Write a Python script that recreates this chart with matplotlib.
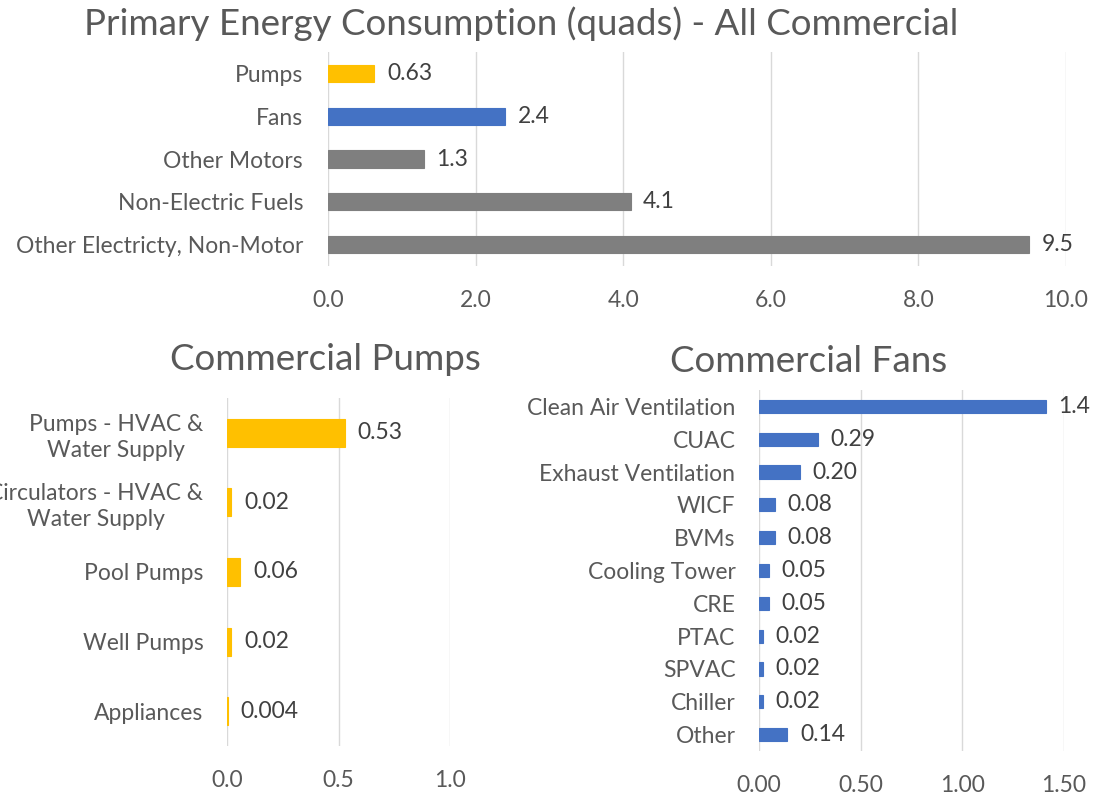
import numpy as np
import matplotlib
matplotlib.use("Agg")
import matplotlib.pyplot as plt

plt.rcParams['font.family'] = ['Lato', 'DejaVu Sans']

# top chart: all commercial
all_cats = ['Pumps', 'Fans', 'Other Motors', 'Non-Electric Fuels',
            'Other Electricty, Non-Motor']
all_vals = [0.63, 2.4, 1.3, 4.1, 9.5]
all_labels = ['0.63', '2.4', '1.3', '4.1', '9.5']
all_colors = ['#FFC000', '#4472C4', '#7F7F7F', '#7F7F7F', '#7F7F7F']

# bottom left: pumps
pump_cats = ['Pumps - HVAC &\nWater Supply', 'Circulators - HVAC &\nWater Supply',
             'Pool Pumps', 'Well Pumps', 'Appliances']
pump_vals = [0.53, 0.02, 0.06, 0.02, 0.004]
pump_labels = ['0.53', '0.02', '0.06', '0.02', '0.004']

# bottom right: fans
fan_cats = ['Clean Air Ventilation', 'CUAC', 'Exhaust Ventilation', 'WICF', 'BVMs',
            'Cooling Tower', 'CRE', 'PTAC', 'SPVAC', 'Chiller', 'Other']
fan_vals = [1.41, 0.29, 0.20, 0.08, 0.08, 0.05, 0.05, 0.02, 0.02, 0.02, 0.14]
fan_labels = ['1.4', '0.29', '0.20', '0.08', '0.08', '0.05', '0.05',
              '0.02', '0.02', '0.02', '0.14']

W, H = 1098, 796
fig = plt.figure(figsize=(W / 100, H / 100), dpi=100)

TXT = '#595959'
LBL = '#404040'
GRID = '#D9D9D9'
FS = 16.5


def px_axes(x0, y0, x1, y1):
    # pixel box (top-left origin) -> figure axes
    return fig.add_axes([x0 / W, 1 - y1 / H, (x1 - x0) / W, (y1 - y0) / H])


def hbar(ax, cats, vals, labels, colors, xmax, xticks, fmt, ypad, xpad):
    ind = np.arange(len(cats))
    bars = ax.barh(ind, vals, 0.4, color=colors, edgecolor=colors,
                   linewidth=0.8, zorder=3)
    ax.set_ylim(len(cats) - 0.5, -0.5)
    ax.set_xlim(0, xmax)
    ax.set_yticks(ind)
    ax.set_yticklabels(cats, multialignment='center', linespacing=1.3)
    ax.set_xticks(xticks)
    ax.set_xticklabels([fmt.format(t) for t in xticks])
    ax.tick_params(length=0, labelsize=FS, colors=TXT)
    ax.tick_params(axis='y', pad=ypad)
    ax.tick_params(axis='x', pad=xpad)
    ax.grid(axis='x', color=GRID, linewidth=1, zorder=0)
    for s in ax.spines.values():
        s.set_visible(False)
    ax.bar_label(bars, labels=labels, padding=9, fontsize=FS, color=LBL)


ax1 = px_axes(328, 52, 1066, 266)
hbar(ax1, all_cats, all_vals, all_labels, all_colors, 10,
     [0, 2, 4, 6, 8, 10], '{:.1f}', 18, 17)

ax2 = px_axes(227, 398, 450, 746)
hbar(ax2, pump_cats, pump_vals, pump_labels, '#FFC000', 1.0,
     [0, 0.5, 1.0], '{:.1f}', 17, 17)

ax3 = px_axes(759, 390, 1064, 751)
hbar(ax3, fan_cats, fan_vals, fan_labels, '#4472C4', 1.5,
     [0, 0.5, 1.0, 1.5], '{:.2f}', 17, 17)

fig.text(521 / W, 1 - 24 / H, 'Primary Energy Consumption (quads) - All Commercial',
         ha='center', va='center', fontsize=26.5, color=TXT)
fig.text(325 / W, 1 - 359 / H, 'Commercial Pumps',
         ha='center', va='center', fontsize=26.5, color=TXT)
fig.text(809 / W, 1 - 362 / H, 'Commercial Fans',
         ha='center', va='center', fontsize=26.5, color=TXT)

fig.savefig('out.png', dpi=100)
